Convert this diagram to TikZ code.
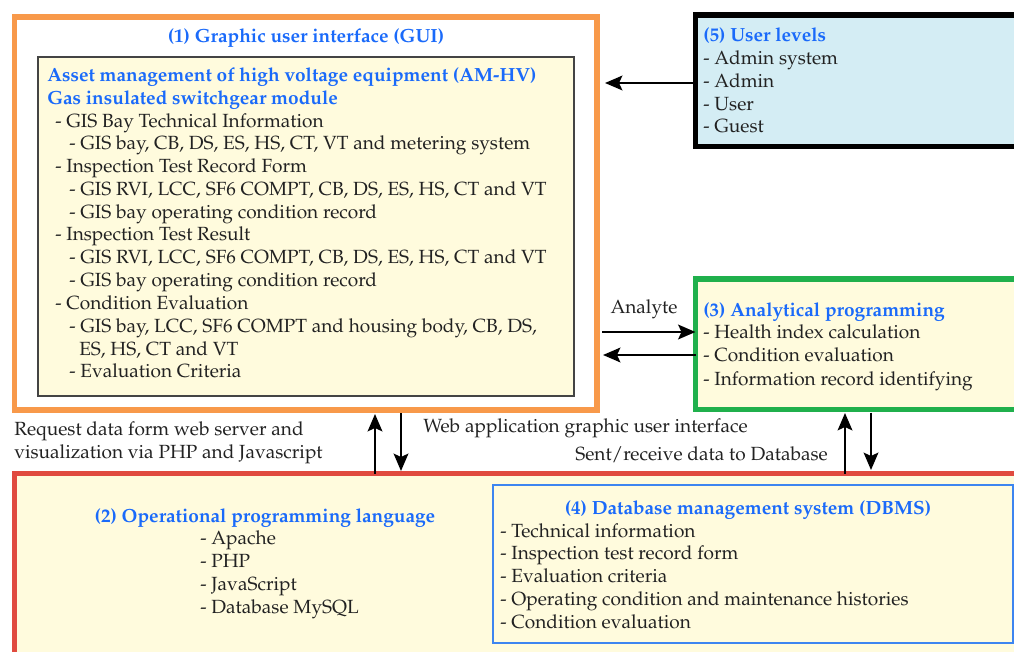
\documentclass[tikz,border=0pt]{standalone}
\usepackage[T1]{fontenc}
\usepackage{mathpazo}
\usetikzlibrary{arrows.meta}
\definecolor{cOrange}{HTML}{F8994A}
\definecolor{cGreen}{HTML}{20B04C}
\definecolor{cRed}{HTML}{E04A3F}
\definecolor{cDB}{HTML}{3D85F0}
\definecolor{cTitle}{HTML}{1A6AFA}
\definecolor{cCream}{HTML}{FFFBDD}
\definecolor{cSky}{HTML}{D4EDF4}
\definecolor{cTxt}{HTML}{222222}
\definecolor{cGray}{HTML}{444444}
\tikzset{
  txt/.style={anchor=base west, inner sep=0pt, text=cTxt, font=\fontsize{14.3}{17}\selectfont},
  ttl/.style={anchor=base west, inner sep=0pt, text=cTitle, font=\fontsize{14.3}{17}\selectfont\bfseries},
  ctl/.style={anchor=base, inner sep=0pt, text=cTitle, font=\fontsize{14.3}{17}\selectfont\bfseries},
  ctx/.style={anchor=base, inner sep=0pt, text=cTxt, font=\fontsize{14.3}{17}\selectfont},
  arr/.style={line width=1.7pt, -{Stealth[length=13pt,width=11pt,inset=2.5pt]}},
  boxr/.style={inner sep=0pt, outer sep=0pt}
}
\begin{document}
\begin{tikzpicture}[x=0.75pt,y=-0.75pt]
\useasboundingbox (0,0) rectangle (1014,652);
% boxes
\path[fill=white] (0,0) rectangle (1014,652);
\node[boxr, draw=cOrange, line width=3.8pt, fill=white, minimum width=582.5*0.75pt, minimum height=393*0.75pt] (gui) at (305.75,213.5) {};
\node[boxr, draw=cGray, line width=1.1pt, fill=cCream, minimum width=536*0.75pt, minimum height=339*0.75pt] (am) at (306,226.5) {};
\node[boxr, draw=black, line width=3.8pt, fill=cSky, minimum width=340*0.75pt, minimum height=131.5*0.75pt] (users) at (865.5,80.75) {};
\node[boxr, draw=cGreen, line width=3.8pt, fill=cCream, minimum width=330*0.75pt, minimum height=130.5*0.75pt] (ana) at (860.5,344.25) {};
\node[boxr, draw=cRed, line width=3.8pt, fill=cCream, minimum width=1020*0.75pt, minimum height=200*0.75pt] (ops) at (524.5,573.5) {};
\node[boxr, draw=cDB, line width=1.5pt, fill=cCream, minimum width=520*0.75pt, minimum height=158*0.75pt] (dbms) at (753,564) {};
\useasboundingbox (0,0) rectangle (1014,652);
% GUI text
\node[ctl] (t1) at (306,43) {(1) Graphic user interface (GUI)};
\node[ttl] (a1) at (47,82) {Asset management of high voltage equipment (AM-HV)};
\node[ttl] (a2) at (47,105) {Gas insulated switchgear module};
\node[txt] (a3) at (55,128) {- GIS Bay Technical Information};
\node[txt] (a4) at (69,150) {- GIS bay, CB, DS, ES, HS, CT, VT and metering system};
\node[txt] (a5) at (55,173) {- Inspection Test Record Form};
\node[txt] (a6) at (69,196) {- GIS RVI, LCC, SF6 COMPT, CB, DS, ES, HS, CT and VT};
\node[txt] (a7) at (69,219) {- GIS bay operating condition record};
\node[txt] (a8) at (55,241) {- Inspection Test Result};
\node[txt] (a9) at (69,264) {- GIS RVI, LCC, SF6 COMPT, CB, DS, ES, HS, CT and VT};
\node[txt] (a10) at (69,287) {- GIS bay operating condition record};
\node[txt] (a11) at (55,310) {- Condition Evaluation};
\node[txt] (a12) at (69,333) {- GIS bay, LCC, SF6 COMPT and housing body, CB, DS,};
\node[txt] (a13) at (79,355) {ES, HS, CT and VT};
\node[txt] (a14) at (69,378) {- Evaluation Criteria};
% user levels
\node[ttl] (u0) at (703,42) {(5) User levels};
\node[txt] (u1) at (703,65) {- Admin system};
\node[txt] (u2) at (703,88) {- Admin};
\node[txt] (u3) at (703,111) {- User};
\node[txt] (u4) at (703,133) {- Guest};
% analytical
\node[ttl] (n0) at (703,317) {(3) Analytical programming};
\node[txt] (n1) at (703,339) {- Health index calculation};
\node[txt] (n2) at (703,362) {- Condition evaluation};
\node[txt] (n3) at (703,385) {- Information record identifying};
% operational
\node[ctl] (o0) at (265,522) {(2) Operational programming language};
\node[txt] (o1) at (200,544) {- Apache};
\node[txt] (o2) at (200,567) {- PHP};
\node[txt] (o3) at (200,590) {- JavaScript};
\node[txt] (o4) at (200,613) {- Database MySQL};
% dbms
\node[ctl] (d0) at (748,514) {(4) Database management system (DBMS)};
\node[txt] (d1) at (500,537) {- Technical information};
\node[txt] (d2) at (500,559) {- Inspection test record form};
\node[txt] (d3) at (500,582) {- Evaluation criteria};
\node[txt] (d4) at (500,605) {- Operating condition and maintenance histories};
\node[txt] (d5) at (500,628) {- Condition evaluation};
% labels
\node[ctx] (lan) at (644,314) {Analyte};
\node[txt] (lr1) at (14,435) {Request data form web server and};
\node[txt] (lr2) at (14,458) {visualization via PHP and Javascript};
\node[txt] (lw) at (423,432) {Web application graphic user interface};
\node[txt] (ls) at (575,460) {Sent/receive data to Database};
% arrows
\draw[arr] (users.west |- 0,83) -- (605,83);
\draw[arr] (gui.east |- 0,332) ++(5,0) -- (ana.west |- 0,332);
\draw[arr] (ana.west |- 0,355) -- (603,355);
\draw[arr] (ops.north -| 375,0) -- (375,414);
\draw[arr] (gui.south -| 401,0) ++(0,3) -- (401,471);
\draw[arr] (ops.north -| 845,0) -- (845,413);
\draw[arr] (ana.south -| 871,0) ++(0,3) -- (871,470);
\end{tikzpicture}
\end{document}
